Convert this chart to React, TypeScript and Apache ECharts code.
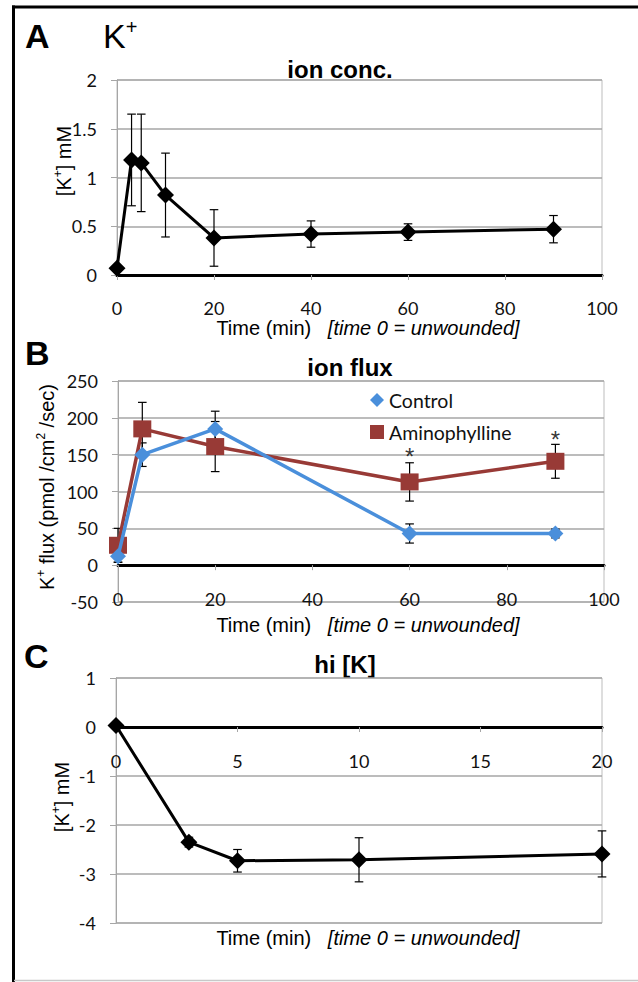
import React, { useEffect, useRef } from 'react';
import * as echarts from 'echarts';

// Panel A: ion concentration
const timeA = [0, 3, 5, 10, 20, 40, 60, 90];
const concA = [0.07, 1.18, 1.15, 0.82, 0.38, 0.42, 0.44, 0.47];
const concErrA = [0, 0.47, 0.5, 0.43, 0.29, 0.135, 0.085, 0.14];

// Panel B: ion flux
const timeB = [0, 5, 20, 60, 90];
const controlB = [12, 150, 185, 43, 43];
const controlErrB = [8, 16, 24, 13, 6];
const aminoB = [27, 185, 161, 113, 141];
const aminoErrB = [23, 36, 34, 26, 23];
const starTimesB = [60, 90];
const starValuesB = [148, 170];

// Panel C: hi [K]
const timeC = [0, 3, 5, 10, 20];
const hiC = [0.03, -2.35, -2.73, -2.71, -2.59];
const hiErrC = [0, 0.1, 0.23, 0.45, 0.47];

const BLUE = '#4A8FDB';
const RED = '#983A36';
const GRID_GRAY = '#a6a6a6';
const TXT = 'Liberation Sans';
const TICK_FONT = 'Lato';

const tickLabel = { fontFamily: TICK_FONT, fontSize: 18, color: '#111' };

function pairs(xs: number[], ys: number[]) {
  return xs.map((x, i) => [x, ys[i]]);
}
function errRows(xs: number[], ys: number[], es: number[]) {
  const out: number[][] = [];
  xs.forEach((x, i) => {
    if (es[i] > 0) out.push([x, ys[i] - es[i], ys[i] + es[i]]);
  });
  return out;
}

const errRender = (params: any, api: any) => {
  const x = api.value(0);
  const lo = api.coord([x, api.value(1)]);
  const hi = api.coord([x, api.value(2)]);
  const w = 4.3;
  const st = { stroke: '#000', lineWidth: 1.2 };
  return {
    type: 'group',
    children: [
      { type: 'line', shape: { x1: lo[0], y1: lo[1], x2: hi[0], y2: hi[1] }, style: st },
      { type: 'line', shape: { x1: hi[0] - w, y1: hi[1], x2: hi[0] + w, y2: hi[1] }, style: st },
      { type: 'line', shape: { x1: lo[0] - w, y1: lo[1], x2: lo[0] + w, y2: lo[1] }, style: st },
    ],
  };
};

function valueX(gridIndex: number, min: number, max: number, interval: number, extra: any) {
  return {
    type: 'value',
    gridIndex,
    min,
    max,
    interval,
    position: 'bottom',
    splitLine: { show: false },
    axisTick: { show: true, length: 5, lineStyle: { color: GRID_GRAY, width: 1 } },
    axisLine: { show: true, onZero: true, lineStyle: { color: '#000', width: 3 } },
    axisLabel: { ...tickLabel, margin: 24 },
    ...extra,
  };
}

function valueY(gridIndex: number, min: number, max: number, interval: number) {
  return {
    type: 'value',
    gridIndex,
    min,
    max,
    interval,
    axisLine: { show: true, onZero: false, lineStyle: { color: GRID_GRAY, width: 1 } },
    axisTick: { show: true, length: 6, lineStyle: { color: GRID_GRAY, width: 1 } },
    axisLabel: { ...tickLabel, margin: 20 },
    splitLine: { show: true, lineStyle: { color: GRID_GRAY, width: 1.5 } },
  };
}

const richBase = {
  n: { fontFamily: TXT, fontSize: 20, color: '#000', lineHeight: 24 },
  i: { fontFamily: TXT, fontSize: 20, color: '#000', fontStyle: 'italic', lineHeight: 24 },
  s: { fontFamily: TXT, fontSize: 12, color: '#000', verticalAlign: 'top', lineHeight: 24 },
};

function txt(x: number, y: number, text: string, opts: any = {}) {
  return {
    type: 'text',
    x,
    y,
    rotation: opts.rotation || 0,
    scaleX: opts.scaleX || 1,
    style: {
      text,
      rich: opts.rich,
      fontFamily: opts.fontFamily || TXT,
      fontSize: opts.fontSize || 20,
      fontWeight: opts.fontWeight || 'normal',
      fill: '#000',
      align: opts.align || 'center',
      textAlign: opts.align || 'center',
      verticalAlign: 'middle',
      textVerticalAlign: 'middle',
    },
  };
}

const xTitle = '{n|Time (min)}{i|   [time 0 = unwounded]}';

// grid C geometry (zero line sits one fifth of the height below the top)
const gridCTop = 678;
const gridCHeight = 245;

const option: any = {
  animation: false,
  backgroundColor: '#ffffff',
  grid: [
    { left: 117, top: 80, width: 485, height: 195, show: true, borderColor: '#bdbdbd', borderWidth: 1, backgroundColor: 'transparent' },
    { left: 118, top: 381, width: 486, height: 221, show: true, borderColor: '#bdbdbd', borderWidth: 1, backgroundColor: 'transparent' },
    { left: 116, top: gridCTop, width: 486, height: gridCHeight, show: true, borderColor: '#bdbdbd', borderWidth: 1, backgroundColor: 'transparent' },
  ],
  xAxis: [
    valueX(0, 0, 100, 20, {}),
    valueX(1, 0, 100, 20, { axisLabel: { show: false } }),
    valueX(1, 0, 100, 20, {
      axisLine: { show: false, onZero: false },
      axisTick: { show: false },
      axisLabel: { ...tickLabel, margin: -12 },
    }),
    valueX(2, 0, 20, 5, { axisLabel: { show: false } }),
    valueX(2, 0, 20, 5, {
      offset: -(gridCHeight * 4) / 5,
      axisLine: { show: false, onZero: false },
      axisTick: { show: false },
      axisLabel: { ...tickLabel, margin: 25 },
    }),
  ],
  yAxis: [valueY(0, 0, 2, 0.5), valueY(1, -50, 250, 50), valueY(2, -4, 1, 1)],
  legend: {
    data: [
      { name: 'Control', icon: 'diamond' },
      { name: 'Aminophylline', icon: 'rect' },
    ],
    orient: 'vertical',
    left: 365,
    top: 385,
    itemWidth: 14,
    itemHeight: 14,
    itemGap: 12,
    selectedMode: false,
    textStyle: { fontFamily: TICK_FONT, fontSize: 19.5, color: '#111' },
  },
  series: [
    {
      type: 'custom',
      xAxisIndex: 0,
      yAxisIndex: 0,
      renderItem: errRender,
      data: errRows(timeA, concA, concErrA),
      z: 1,
      silent: true,
    },
    {
      type: 'line',
      name: 'ion conc.',
      xAxisIndex: 0,
      yAxisIndex: 0,
      data: pairs(timeA, concA),
      symbol: 'diamond',
      symbolSize: 17,
      clip: false,
      lineStyle: { color: '#000', width: 3 },
      itemStyle: { color: '#000' },
      z: 3,
    },
    {
      type: 'custom',
      xAxisIndex: 1,
      yAxisIndex: 1,
      renderItem: errRender,
      data: errRows(timeB, aminoB, aminoErrB),
      z: 1,
      silent: true,
    },
    {
      type: 'custom',
      xAxisIndex: 1,
      yAxisIndex: 1,
      renderItem: errRender,
      data: errRows(timeB, controlB, controlErrB),
      z: 1,
      silent: true,
    },
    {
      type: 'line',
      name: 'Aminophylline',
      xAxisIndex: 1,
      yAxisIndex: 1,
      data: pairs(timeB, aminoB),
      symbol: 'rect',
      symbolSize: [18, 17],
      clip: false,
      lineStyle: { color: RED, width: 3.5 },
      itemStyle: { color: RED },
      z: 3,
    },
    {
      type: 'line',
      name: 'Control',
      xAxisIndex: 1,
      yAxisIndex: 1,
      data: pairs(timeB, controlB),
      symbol: 'diamond',
      symbolSize: 16,
      clip: false,
      lineStyle: { color: BLUE, width: 3.5 },
      itemStyle: { color: BLUE },
      z: 4,
    },
    {
      type: 'scatter',
      name: 'sig',
      xAxisIndex: 1,
      yAxisIndex: 1,
      data: pairs(starTimesB, starValuesB),
      symbolSize: 1,
      itemStyle: { color: 'rgba(0,0,0,0)' },
      label: {
        show: true,
        position: 'inside',
        formatter: '*',
        fontFamily: TXT,
        fontSize: 24,
        lineHeight: 8,
        color: '#000',
      },
      z: 5,
    },
    {
      type: 'custom',
      xAxisIndex: 3,
      yAxisIndex: 2,
      renderItem: errRender,
      data: errRows(timeC, hiC, hiErrC),
      z: 1,
      silent: true,
    },
    {
      type: 'line',
      name: 'hi [K]',
      xAxisIndex: 3,
      yAxisIndex: 2,
      data: pairs(timeC, hiC),
      symbol: 'diamond',
      symbolSize: 17,
      clip: false,
      lineStyle: { color: '#000', width: 3 },
      itemStyle: { color: '#000' },
      z: 3,
    },
  ],
  graphic: [
    // frame
    { type: 'line', shape: { x1: 13.5, y1: 5.5, x2: 13.5, y2: 982 }, style: { stroke: '#000', lineWidth: 3 } },
    { type: 'line', shape: { x1: 12, y1: 7, x2: 638, y2: 7 }, style: { stroke: '#000', lineWidth: 3 } },
    { type: 'line', shape: { x1: 14, y1: 980.5, x2: 638, y2: 980.5 }, style: { stroke: '#c8c8c8', lineWidth: 1.5 } },
    // panel letters
    txt(25, 36, 'A', { fontSize: 34, fontWeight: 'bold', align: 'left' }),
    txt(103, 36, '{k|K}{p|+}', {
      align: 'left',
      rich: {
        k: { fontFamily: TXT, fontSize: 34, color: '#000', lineHeight: 38 },
        p: { fontFamily: TXT, fontSize: 20, color: '#000', verticalAlign: 'top', lineHeight: 38 },
      },
    }),
    txt(25, 353, 'B', { fontSize: 34, fontWeight: 'bold', align: 'left' }),
    txt(24, 656, 'C', { fontSize: 34, fontWeight: 'bold', align: 'left' }),
    // titles
    txt(340, 69, 'ion conc.', { fontSize: 24, fontWeight: 'bold' }),
    txt(350, 367, 'ion flux', { fontSize: 24, fontWeight: 'bold' }),
    txt(345, 664, 'hi [K]', { fontSize: 24, fontWeight: 'bold' }),
    // x titles
    txt(368, 328, xTitle, { rich: richBase }),
    txt(368, 625, xTitle, { rich: richBase }),
    txt(368, 938, xTitle, { rich: richBase }),
    // y titles
    txt(64, 161, '{n|[K}{s|+}{n|] mM}', { rich: richBase, rotation: Math.PI / 2 }),
    txt(47, 487, '{n|K}{s|+}{n| flux (pmol /cm}{s|2}{n| /sec)}', { rich: richBase, rotation: Math.PI / 2 }),
    txt(62, 797, '{n|[K}{s|+}{n|] mM}', { rich: richBase, rotation: Math.PI / 2 }),
  ],
};

export default function App() {
  const ref = useRef<HTMLDivElement>(null);
  useEffect(() => {
    const chart = echarts.init(ref.current as HTMLDivElement, null, { renderer: 'svg' });
    chart.setOption(option);
    return () => chart.dispose();
  }, []);
  return (
    <div
      ref={ref}
      style={{ position: 'absolute', left: 0, top: 0, width: 638, height: 982, background: '#fff' }}
    />
  );
}
